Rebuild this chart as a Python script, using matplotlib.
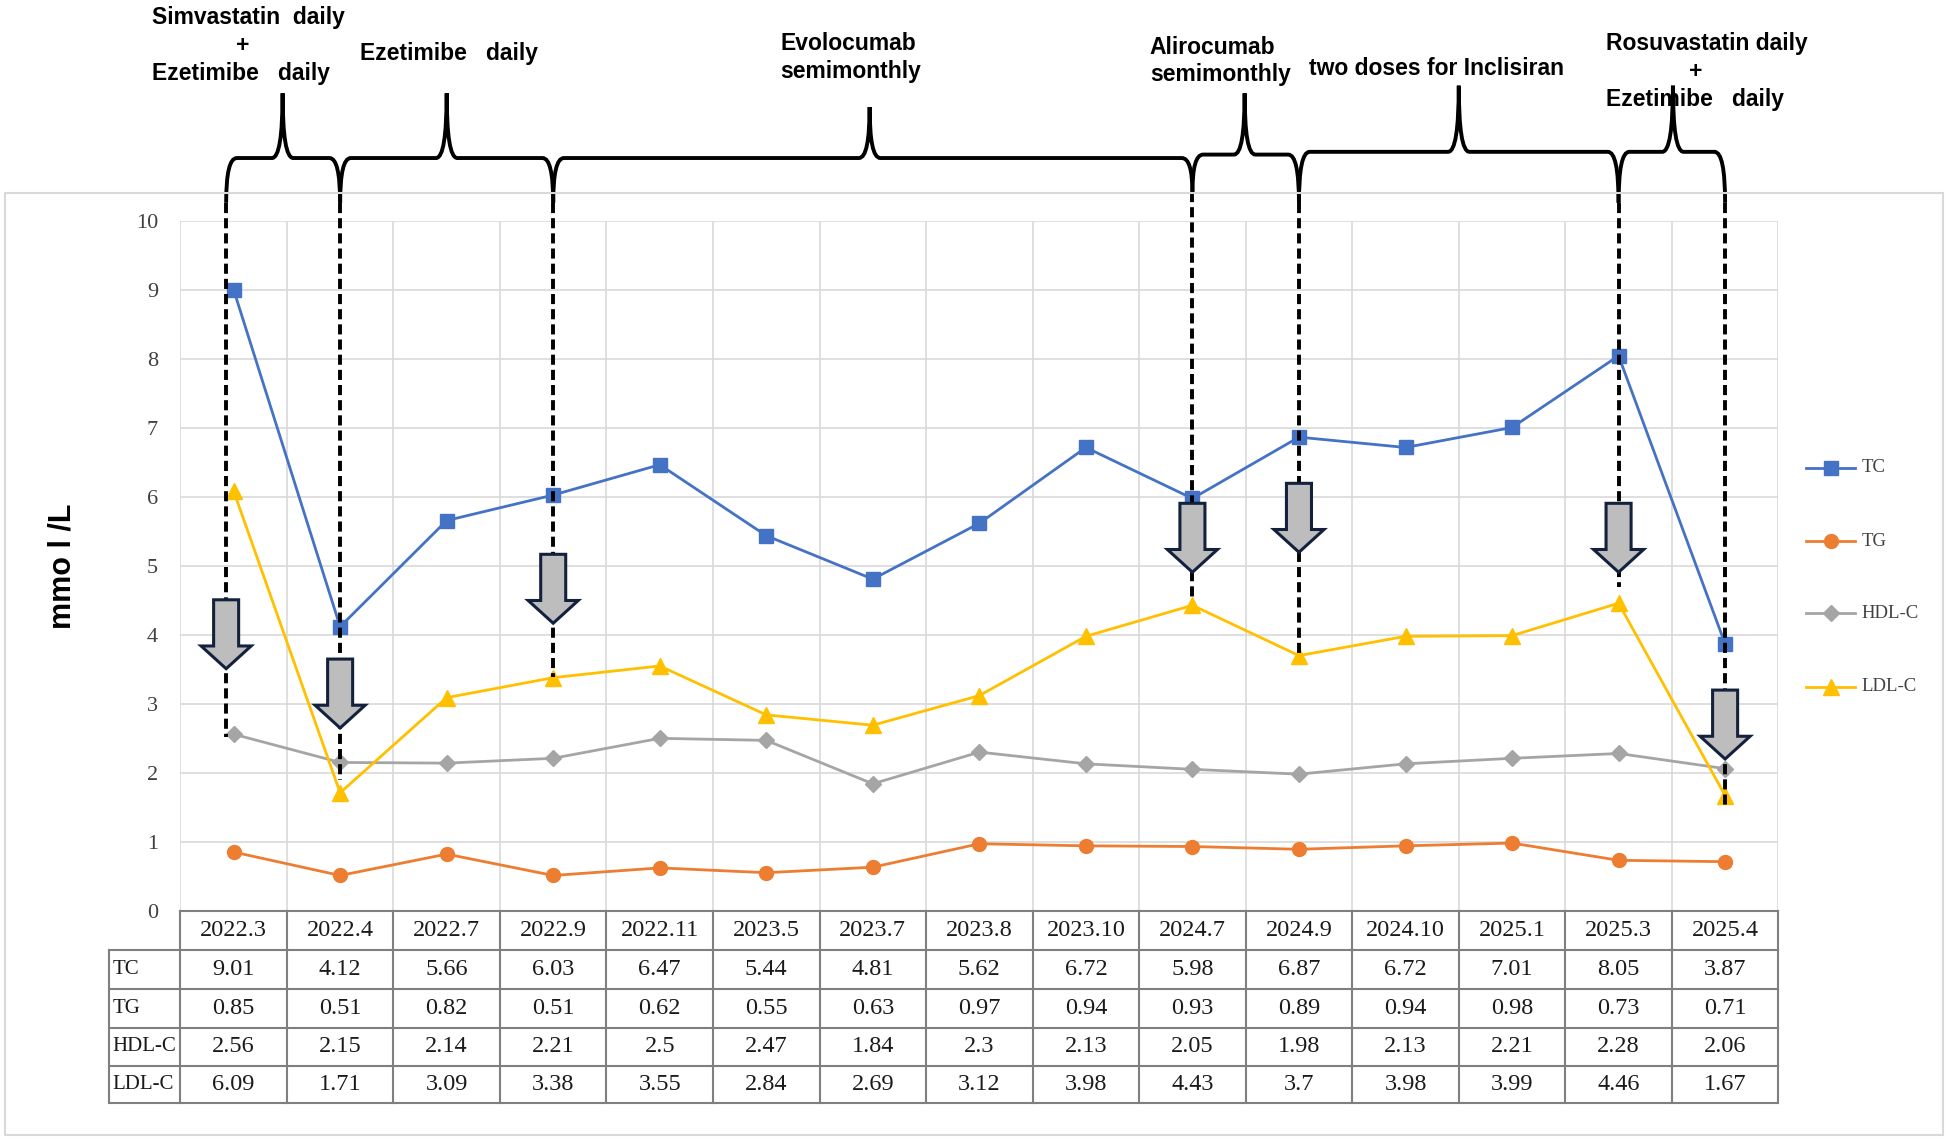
import matplotlib
matplotlib.use('Agg')
import matplotlib.pyplot as plt
from matplotlib.path import Path
from matplotlib.patches import PathPatch, Polygon, Rectangle
from matplotlib.lines import Line2D

# ========== data ==========
dates = ['2022.3', '2022.4', '2022.7', '2022.9', '2022.11', '2023.5', '2023.7', '2023.8',
         '2023.10', '2024.7', '2024.9', '2024.10', '2025.1', '2025.3', '2025.4']
tc = [9.01, 4.12, 5.66, 6.03, 6.47, 5.44, 4.81, 5.62, 6.72, 5.98, 6.87, 6.72, 7.01, 8.05, 3.87]
tg = [0.85, 0.51, 0.82, 0.51, 0.62, 0.55, 0.63, 0.97, 0.94, 0.93, 0.89, 0.94, 0.98, 0.73, 0.71]
hdl = [2.56, 2.15, 2.14, 2.21, 2.5, 2.47, 1.84, 2.3, 2.13, 2.05, 1.98, 2.13, 2.21, 2.28, 2.06]
ldl = [6.09, 1.71, 3.09, 3.38, 3.55, 2.84, 2.69, 3.12, 3.98, 4.43, 3.7, 3.98, 3.99, 4.46, 1.67]

names = ['TC', 'TG', 'HDL-C', 'LDL-C']
colors = ['#4472C4', '#ED7D31', '#A5A5A5', '#FFC000']
markers = ['s', 'o', 'D', '^']
msizes = [10, 10, 8, 11]

# treatment change points (x in category units) and where the dashed guide / arrow sit
change_x = [-0.07, 1, 3, 9, 10, 13, 14]
guide_bottom = [2.52, 1.89, 3.39, 4.53, 3.74, 4.69, 1.53]
guide_top = [10.27, 10.27, 10.27, 10.42, 10.27, 10.27, 10.27]
arrow_top = [4.51, 3.65, 5.17, 5.91, 6.2, 5.91, 3.2]

# braces: (start, end, tip x, horizontal y, tip y)
braces = [(-0.07, 1, 0.46, 10.92, 11.86),
          (1, 3, 2.0, 10.92, 11.86),
          (3, 9, 5.97, 10.92, 11.66),
          (9, 10, 9.49, 10.97, 11.86),
          (10, 13, 11.5, 11.01, 11.97),
          (13, 14, 13.51, 11.01, 11.97)]

SERIF = ['Liberation Serif', 'DejaVu Serif']
SANS = ['Liberation Sans', 'DejaVu Sans']

fig = plt.figure(figsize=(19.5, 11.42), dpi=100)
ax = fig.add_axes([145 / 1568, 1 - 732 / 918, 1285 / 1568, 554 / 918])
ax.set_xlim(-0.5, len(dates) - 0.5)
ax.set_ylim(0, 10)
for s in ax.spines.values():
    s.set_visible(False)
ax.set_xticks([])
ax.set_yticks(range(0, 11))
ax.tick_params(axis='y', length=0, pad=16, labelsize=16, labelcolor='#404040')
for lab in ax.get_yticklabels():
    lab.set_family(SERIF)

# grid
for k in range(1, 11):
    ax.axhline(k, color='#D9D9D9', lw=1.2, zorder=0)
for k in range(len(dates) + 1):
    ax.axvline(k - 0.5, color='#D9D9D9', lw=1.2, zorder=0)

# ---- series ----
xs = list(range(len(dates)))
for vals, c, m, ms in zip([tc, tg, hdl, ldl], colors, markers, msizes):
    ax.plot(xs, vals, color=c, lw=2, marker=m, ms=ms, zorder=3)

# ---- dashed guides ----
for x, yb, yt in zip(change_x, guide_bottom, guide_top):
    ax.plot([x, x], [yt, yb], color='black', lw=2.8, ls=(0, (2.6, 1.3)),
            zorder=5, clip_on=False)

# ---- block arrows ----
def down_arrow(x, top, length=1.0, head=0.33, sw=0.235, hw=0.47):
    yh = top - length + head
    pts = [(x - sw / 2, top), (x + sw / 2, top), (x + sw / 2, yh), (x + hw / 2, yh),
           (x, top - length), (x - hw / 2, yh), (x - sw / 2, yh)]
    ax.add_patch(Polygon(pts, closed=True, fc='#BDBDBD', ec='#14213D', lw=2.2,
                         zorder=6, clip_on=False))

for x, t in zip(change_x, arrow_top):
    down_arrow(x, t)

# ---- braces ----
def brace(x0, x1, xm, yh, yt, yb0, yb1, r=0.1):
    verts = [(x0, yb0), (x0, yh), (x0 + r, yh),
             (xm - r, yh), (xm, yh), (xm, yt),
             (xm, yh), (xm + r, yh),
             (x1 - r, yh), (x1, yh), (x1, yb1)]
    codes = [Path.MOVETO, Path.CURVE3, Path.CURVE3,
             Path.LINETO, Path.CURVE3, Path.CURVE3,
             Path.CURVE3, Path.CURVE3,
             Path.LINETO, Path.CURVE3, Path.CURVE3]
    ax.add_patch(PathPatch(Path(verts, codes), fc='none', ec='black', lw=2.8,
                           clip_on=False, zorder=5))

for x0, x1, xm, yh, yt in braces:
    yb0 = guide_top[change_x.index(x0)]
    yb1 = guide_top[change_x.index(x1)]
    brace(x0, x1, xm, yh, yt, yb0, yb1)

# ---- treatment texts ----
tkw = dict(fontsize=16.5, fontweight='bold', family=SANS, va='center', clip_on=False)
ax.text(-0.77, 12.96, 'Simvastatin  daily', ha='left', **tkw)
ax.text(0.09, 12.56, '+', ha='center', **tkw)
ax.text(-0.77, 12.15, 'Ezetimibe   daily', ha='left', **tkw)
ax.text(1.19, 12.44, 'Ezetimibe   daily', ha='left', **tkw)
ax.text(5.13, 12.58, 'Evolocumab', ha='left', **tkw)
ax.text(5.13, 12.18, 'semimonthly', ha='left', **tkw)
ax.text(8.6, 12.53, 'Alirocumab', ha='left', **tkw)
ax.text(8.6, 12.13, 'semimonthly', ha='left', **tkw)
ax.text(10.09, 12.22, 'two doses for Inclisiran', ha='left', **tkw)
ax.text(12.88, 12.58, 'Rosuvastatin daily', ha='left', **tkw)
ax.text(13.72, 12.18, '+', ha='center', **tkw)
ax.text(12.88, 11.77, 'Ezetimibe   daily', ha='left', **tkw)

# ---- data table ----
row_edges = [0, -0.578, -1.137, -1.697, -2.256, -2.798]
tab_left = -1.165
lc = '#7F7F7F'
ax.plot([-0.5, len(dates) - 0.5], [0, 0], color=lc, lw=1.5, clip_on=False, zorder=4)
for y in row_edges[1:]:
    ax.plot([tab_left, len(dates) - 0.5], [y, y], color=lc, lw=1.5, clip_on=False)
ax.plot([tab_left, tab_left], [row_edges[1], row_edges[-1]], color=lc, lw=1.5, clip_on=False)
for k in range(len(dates) + 1):
    ax.plot([k - 0.5, k - 0.5], [0, row_edges[-1]], color=lc, lw=1.5, clip_on=False)

ckw = dict(family=SERIF, va='center', clip_on=False, color='#1A1A1A')
yc = [(row_edges[i] + row_edges[i + 1]) / 2 for i in range(5)]
for i, d in enumerate(dates):
    ax.text(i, yc[0], d, ha='center', fontsize=17.5, **ckw)
for r, (name, vals) in enumerate(zip(names, [tc, tg, hdl, ldl])):
    ax.text(tab_left + 0.025, yc[r + 1], name, ha='left', fontsize=15, **ckw)
    for i, v in enumerate(vals):
        ax.text(i, yc[r + 1], str(v), ha='center', fontsize=17.5, **ckw)

# ---- y label ----
fig.text(50 / 1568, 1 - 455 / 918, 'mmo l /L', rotation=90, fontsize=22,
         fontweight='bold', family=SANS, ha='center', va='center')

# ---- legend ----
leg_y = [376, 435, 493, 552]
for name, c, m, ms, yd in zip(names, colors, markers, msizes, leg_y):
    fy = 1 - yd / 918
    fig.add_artist(Line2D([1452 / 1568, 1492 / 1568], [fy, fy], transform=fig.transFigure,
                          color=c, lw=2))
    fig.add_artist(Line2D([1472 / 1568], [fy], transform=fig.transFigure,
                          color=c, marker=m, ms=ms, lw=0))
    fig.text(1497 / 1568, fy, name, fontsize=13.5, family=SERIF, color='#404040',
             ha='left', va='center')

# ---- chart frame ----
fig.add_artist(Rectangle((4 / 1568, 1 - 912 / 918), 1558 / 1568, 757 / 918,
                         transform=fig.transFigure, fc='none', ec='#D9D9D9', lw=1.5))

fig.savefig('out.png', dpi=100)
